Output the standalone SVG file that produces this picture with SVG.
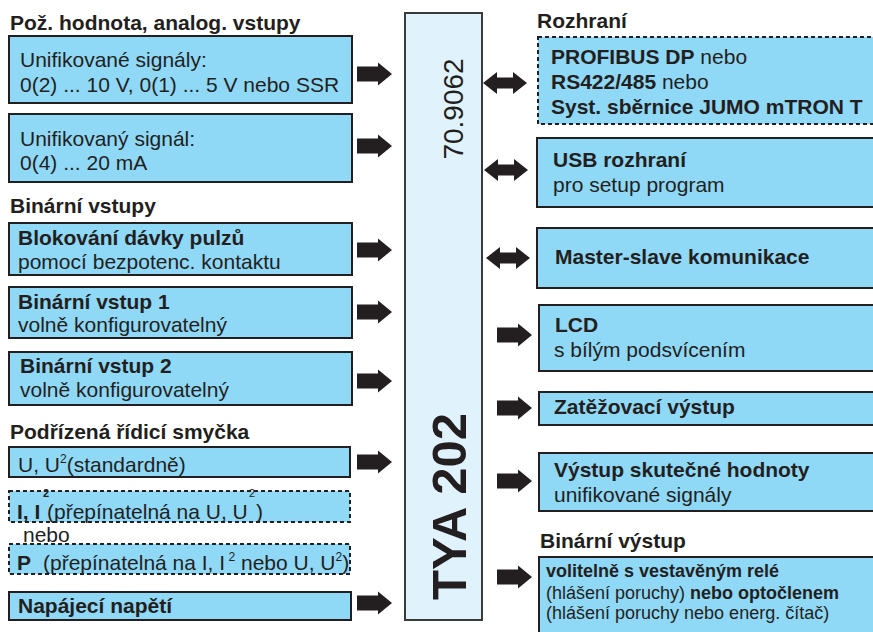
<svg xmlns="http://www.w3.org/2000/svg" width="873" height="632" viewBox="0 0 873 632">
<style>
text{font-family:"Liberation Sans",Arial,sans-serif;fill:#231f20;font-size:21px}
.b{font-weight:bold}
.hd{font-weight:bold;font-size:21px}
.box{fill:#8fd8f6;stroke:#231f20;stroke-width:2}
.dash{fill:#8fd8f6;stroke:#231f20;stroke-width:2;stroke-dasharray:4 3}
.sup{font-size:12px}
.sup2{font-size:11px}
.sm{font-size:18px}
.arr{fill:#231f20}
</style>
<defs>
<path id="ar" d="M0,-7.5 H21 V-11.5 L35,0 L21,11.5 V7.5 H0 Z"/>
<path id="da" d="M0,0 L14,-11 V-5.5 H30 V-11 L44,0 L30,11 V5.5 H14 V11 Z"/>
</defs>
<rect width="873" height="632" fill="#fff"/>

<g id="hdr-left">
<text class="hd" x="10" y="30">Pož. hodnota, analog. vstupy</text>
<text class="hd" x="10" y="213">Binární vstupy</text>
<text class="hd" x="10" y="439">Podřízená řídicí smyčka</text>
</g>
<g id="hdr-right">
<text class="hd" x="537" y="28">Rozhraní</text>
<text class="hd" x="540" y="548">Binární výstup</text>
</g>

<g id="n-analog1">
<rect class="box" x="9" y="36" width="343" height="67"/>
<text x="20" y="67">Unifikované signály:</text>
<text x="20" y="92">0(2) ... 10 V, 0(1) ... 5 V nebo SSR</text>
</g>
<g id="n-analog2">
<rect class="box" x="9" y="114" width="343" height="68"/>
<text x="20" y="146">Unifikovaný signál:</text>
<text x="20" y="170">0(4) ... 20 mA</text>
</g>
<g id="n-blok">
<rect class="box" x="9" y="223" width="343" height="52"/>
<text class="b" x="18" y="245">Blokování dávky pulzů</text>
<text x="18" y="269">pomocí bezpotenc. kontaktu</text>
</g>
<g id="n-bin1">
<rect class="box" x="9" y="287" width="343" height="51"/>
<text class="b" x="18" y="309">Binární vstup 1</text>
<text x="18" y="332">volně konfigurovatelný</text>
</g>
<g id="n-bin2">
<rect class="box" x="9" y="352" width="343" height="53"/>
<text class="b" x="20" y="373">Binární vstup 2</text>
<text x="20" y="397">volně konfigurovatelný</text>
</g>
<g id="n-uu">
<rect class="box" x="9" y="447" width="341" height="30"/>
<text x="18" y="472">U, U<tspan class="sup" dy="-9">2</tspan><tspan dy="9">(standardně)</tspan></text>
</g>
<g id="n-ii">
<rect class="dash" x="9" y="491" width="341" height="31"/>
<text class="b" x="17" y="519">I, I</text>
<text class="sup2 b" x="43" y="497">2</text>
<text x="47" y="519">(přepínatelná na U, U</text>
<text class="sup2" x="249" y="497">2</text>
<text x="256" y="519">)</text>
</g>
<g id="n-nebo">
<text x="23" y="542">nebo</text>
</g>
<g id="n-p">
<rect class="dash" x="9" y="544" width="341" height="30"/>
<text class="b" x="17" y="570">P</text>
<text x="43" y="570">(přepínatelná na I, I<tspan class="sup" dy="-9"> 2</tspan><tspan dy="9"> nebo U, U</tspan><tspan class="sup" dy="-9">2</tspan><tspan dy="9">)</tspan></text>
</g>
<g id="n-napaj">
<rect class="box" x="9" y="592" width="342" height="28"/>
<text class="b" x="18" y="613">Napájecí napětí</text>
</g>

<g id="n-main">
<rect x="405" y="13" width="77" height="607" fill="#e0f3fc" stroke="#3a3a3a" stroke-width="2"/>
<text transform="translate(463,109) rotate(-90)" text-anchor="middle" style="font-size:28px">70.9062</text>
<text class="b" transform="translate(466,600) rotate(-90)" style="font-size:49px">TYA 202</text>
</g>

<g id="n-profibus">
<rect class="dash" x="538" y="37" width="345" height="87"/>
<text x="551" y="64"><tspan class="b">PROFIBUS DP</tspan> nebo</text>
<text x="551" y="89"><tspan class="b">RS422/485</tspan> nebo</text>
<text class="b" x="551" y="114">Syst. sběrnice JUMO mTRON T</text>
</g>
<g id="n-usb">
<rect class="box" x="537" y="138" width="346" height="69"/>
<text class="b" x="553" y="167">USB rozhraní</text>
<text x="553" y="192">pro setup program</text>
</g>
<g id="n-master">
<rect class="box" x="537" y="228" width="346" height="60"/>
<text class="b" x="555" y="264">Master-slave komunikace</text>
</g>
<g id="n-lcd">
<rect class="box" x="539" y="305" width="344" height="66"/>
<text class="b" x="555" y="332">LCD</text>
<text x="554" y="357">s bílým podsvícením</text>
</g>
<g id="n-zatez">
<rect class="box" x="539" y="392" width="344" height="33"/>
<text class="b" x="554" y="414">Zatěžovací výstup</text>
</g>
<g id="n-vystup">
<rect class="box" x="539" y="453" width="344" height="58"/>
<text class="b" x="554" y="477">Výstup skutečné hodnoty</text>
<text x="554" y="502">unifikované signály</text>
</g>
<g id="n-binvyst">
<rect class="box" x="539" y="557" width="344" height="90"/>
<text class="sm b" x="546" y="577">volitelně s vestavěným relé</text>
<text class="sm" x="546" y="599">(hlášení poruchy) <tspan class="b">nebo optočlenem</tspan></text>
<text class="sm" x="546" y="619">(hlášení poruchy nebo energ. čítač)</text>
</g>

<g id="connectors" class="arr">
<use href="#ar" x="357" y="74"/>
<use href="#ar" x="357" y="146"/>
<use href="#ar" x="357" y="250"/>
<use href="#ar" x="357" y="312"/>
<use href="#ar" x="357" y="381"/>
<use href="#ar" x="357" y="462"/>
<use href="#ar" x="357" y="603"/>
<use href="#da" x="483" y="83"/>
<use href="#da" x="484" y="170"/>
<use href="#da" x="486" y="258"/>
<use href="#ar" x="497" y="335"/>
<use href="#ar" x="497" y="408"/>
<use href="#ar" x="497" y="481"/>
<use href="#ar" x="497" y="577"/>
</g>
</svg>
